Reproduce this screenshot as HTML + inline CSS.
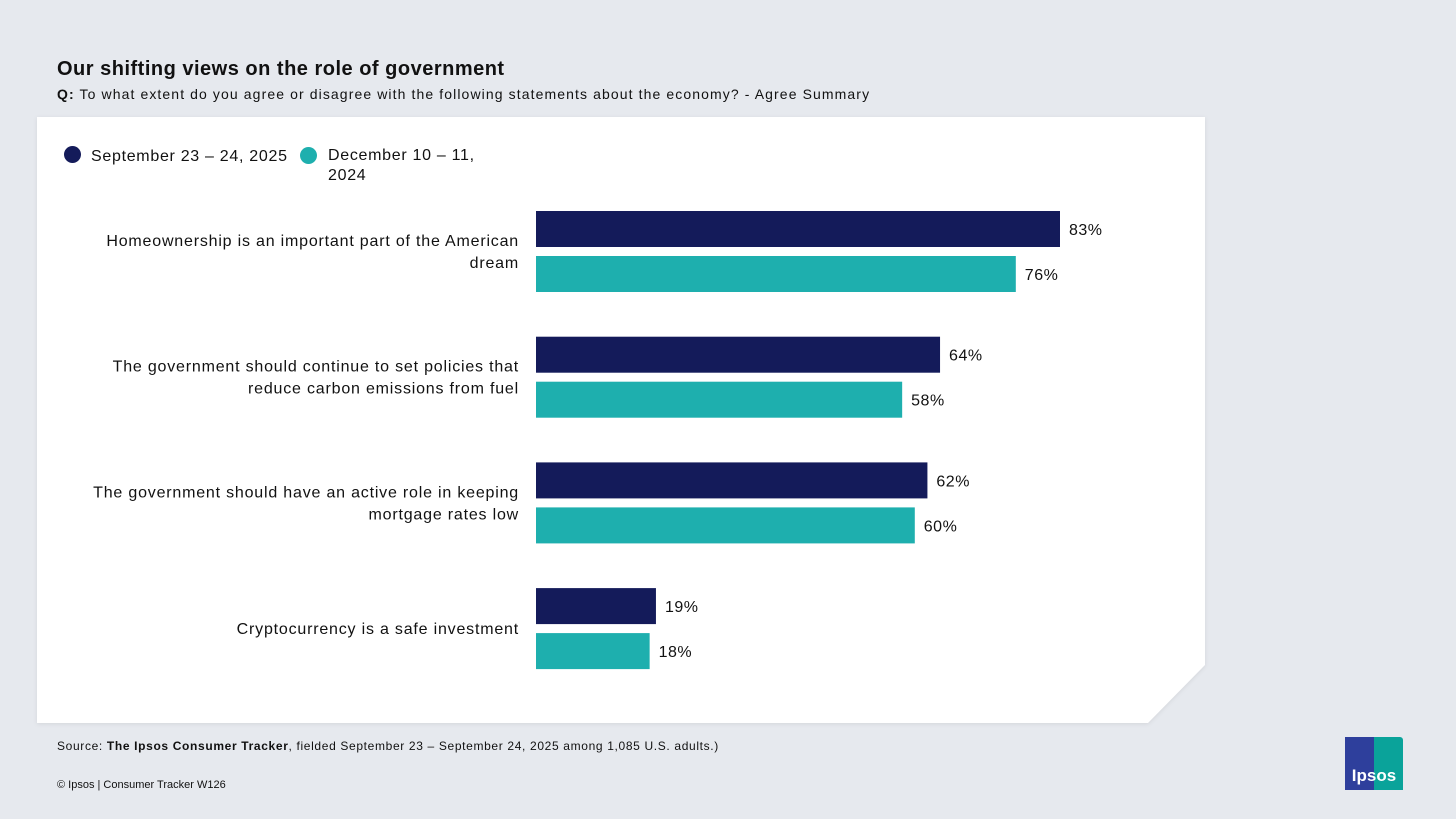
<!DOCTYPE html>
<html><head><meta charset="utf-8"><style>
body{margin:0;width:1456px;height:819px;background:#e6e9ee;font-family:"Liberation Sans",sans-serif;position:relative;overflow:hidden;color:#111}
.t{position:absolute;white-space:nowrap}
</style></head><body>
<div class="t" style="left:57px;top:58px;font-size:20px;font-weight:bold;letter-spacing:0.5px">Our shifting views on the role of government</div>
<div class="t" style="left:57px;top:86px;font-size:14px;letter-spacing:1.1px"><b>Q:</b> To what extent do you agree or disagree with the following statements about the economy? - Agree Summary</div>
<svg width="1456" height="819" style="position:absolute;left:0;top:0">
<polygon points="37,117 1205,117 1205,665 1148,723 37,723" fill="#fff" style="filter:drop-shadow(0 1px 2px rgba(0,0,0,0.08))"/>
<g id="chart"></g>
</svg>
<div class="t" style="left:64px;top:146px;font-size:16px;letter-spacing:0.7px"><span style="display:inline-block;width:17px;height:17px;border-radius:50%;background:#141b5a;vertical-align:-2px;margin-right:10px"></span>September 23 – 24, 2025</div>
<div style="position:absolute;left:300px;top:146px;font-size:16px;line-height:20px;letter-spacing:0.7px"><span style="position:absolute;left:0;top:1px;width:17px;height:17px;border-radius:50%;background:#1eafae"></span><div style="margin-left:28px">December 10 – 11,<br>2024</div></div>
<div class="t" style="left:57px;top:739px;font-size:12px;letter-spacing:0.65px">Source: <b>The Ipsos Consumer Tracker</b>, fielded September 23 – September 24, 2025 among 1,085 U.S. adults.)</div>
<div class="t" style="left:57px;top:779px;font-size:11px">© Ipsos | Consumer Tracker W126</div>
<div style="position:absolute;left:1345px;top:737px;width:58px;height:53px;background:linear-gradient(90deg,#2e3f9c 50%,#0aa39a 50%);color:#fff;font-weight:bold;font-size:17px;text-align:center;line-height:20px;box-sizing:border-box;padding-top:29px;border-top-right-radius:3px">Ipsos</div>
<script>
const categories=[["Homeownership is an important part of the American","dream"],["The government should continue to set policies that","reduce carbon emissions from fuel"],["The government should have an active role in keeping","mortgage rates low"],["Cryptocurrency is a safe investment"]];
const sep2025=[83,64,62,19];
const dec2024=[76,58,60,18];
const NS="http://www.w3.org/2000/svg";
const g=document.getElementById('chart');
const x0=536,pxPer=524/83;
const xs=v=>x0+v*pxPer;
const gy=i=>211+i*125.7;
function mk(tag,attrs,txt){const e=document.createElementNS(NS,tag);for(const k in attrs)e.setAttribute(k,attrs[k]);if(txt!=null)e.textContent=txt;g.appendChild(e);return e;}
categories.forEach((c,i)=>{
  const y=gy(i);
  [[sep2025,'#141b5a',0,'2025'],[dec2024,'#1eafae',45,'2024']].forEach(([arr,col,off,nm])=>{
    const r=mk('rect',{x:x0,y:y+off,width:xs(arr[i])-x0,height:36,fill:col});
    
    
    const t=mk('text',{x:xs(arr[i])+9,y:y+off+24,'font-size':16,fill:'#111','font-family':'Liberation Sans, sans-serif','letter-spacing':0.5},arr[i]+'%');
    
    
  });
  const cy=y+40;
  const n=c.length;
  c.forEach((line,j)=>{
    const t=mk('text',{x:519,y:cy+6+(j-(n-1)/2)*22,'text-anchor':'end','font-size':16,fill:'#111','font-family':'Liberation Sans, sans-serif','letter-spacing':0.8},line);
    
    
  });
});
</script>
</body></html>
